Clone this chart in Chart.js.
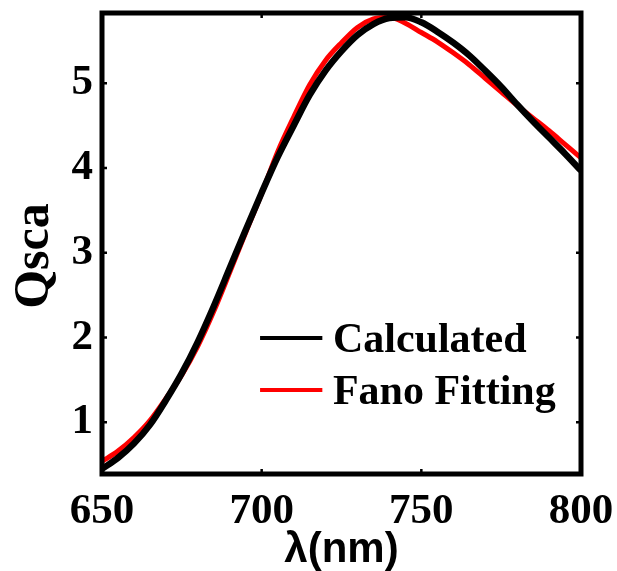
<!DOCTYPE html>
<html>
<head>
<meta charset="utf-8">
<script src="https://cdn.jsdelivr.net/npm/chart.js@4/dist/chart.umd.min.js"></script>
<style>
html,body{margin:0;padding:0;background:#fff;}
#wrap{width:617px;height:571px;}
</style>
</head>
<body>
<div id="wrap"><canvas id="c" width="617" height="571"></canvas></div>
<script>
const wavelengths = [650,655,660,665,670,675,680,685,690,695,700,705,710,715,720,725,730,735,740,745,750,755,760,765,770,775,780,785,790,795,800];
const calculated  = [0.45,0.58,0.75,0.97,1.26,1.58,1.95,2.37,2.82,3.27,3.71,4.13,4.50,4.86,5.15,5.38,5.57,5.70,5.77,5.78,5.72,5.61,5.48,5.33,5.15,4.96,4.75,4.55,4.36,4.17,3.97];
const fanoFitting = [0.54,0.66,0.82,1.02,1.28,1.56,1.90,2.31,2.77,3.24,3.70,4.19,4.60,4.98,5.27,5.48,5.66,5.76,5.78,5.71,5.60,5.49,5.36,5.22,5.06,4.90,4.74,4.59,4.44,4.28,4.12];
const xTicks = [650,700,750,800];
const yTicks = [1,2,3,4,5];
const seriesNames = ['Calculated','Fano Fitting'];
const seriesColors = ['#000000','#ff0000'];

const serif = '"Liberation Serif", "Times New Roman", serif';
const sans = '"Liberation Sans", Arial, sans-serif';

const framePlugin = {
  id: 'frame',
  afterDatasetsDraw(chart) {
    const {ctx, chartArea: a, scales} = chart;
    ctx.save();
    ctx.strokeStyle = '#000';
    ctx.lineWidth = 5;
    ctx.strokeRect(a.left, a.top, a.right - a.left, a.bottom - a.top);
    ctx.lineWidth = 2.5;
    const t = 5;
    xTicks.forEach(v => {
      const px = scales.x.getPixelForValue(v);
      ctx.beginPath();
      ctx.moveTo(px, a.top); ctx.lineTo(px, a.top + t);
      ctx.moveTo(px, a.bottom); ctx.lineTo(px, a.bottom - t);
      ctx.stroke();
    });
    yTicks.forEach(v => {
      const py = scales.y.getPixelForValue(v);
      ctx.beginPath();
      ctx.moveTo(a.left, py); ctx.lineTo(a.left + t, py);
      ctx.moveTo(a.right, py); ctx.lineTo(a.right - t, py);
      ctx.stroke();
    });
    ctx.restore();
  }
};

const legendPlugin = {
  id: 'innerLegend',
  afterDraw(chart) {
    const {ctx, chartArea: a} = chart;
    const w = a.right - a.left, h = a.bottom - a.top;
    const x0 = a.left + 0.33 * w, x1 = a.left + 0.46 * w, tx = a.left + 0.482 * w;
    const rows = [a.top + 0.705 * h, a.top + 0.818 * h];
    ctx.save();
    ctx.font = 'bold 42px ' + serif;
    ctx.textAlign = 'left';
    ctx.textBaseline = 'alphabetic';
    chart.data.datasets.forEach((ds, i) => {
      const y = rows[i];
      ctx.strokeStyle = ds.borderColor;
      ctx.lineWidth = 4;
      ctx.beginPath(); ctx.moveTo(x0, y); ctx.lineTo(x1, y); ctx.stroke();
      ctx.fillStyle = '#000';
      ctx.fillText(ds.label, tx, y + 14);
    });
    ctx.restore();
  }
};

new Chart(document.getElementById('c'), {
  type: 'line',
  data: {
    datasets: [
      {label: seriesNames[0], data: wavelengths.map((x,i)=>({x, y: calculated[i]})), borderColor: seriesColors[0], borderWidth: 6.5, pointRadius: 0, tension: 0.4, cubicInterpolationMode: 'monotone', fill: false},
      {label: seriesNames[1], data: wavelengths.map((x,i)=>({x, y: fanoFitting[i]})), borderColor: seriesColors[1], borderWidth: 5, pointRadius: 0, tension: 0.4, cubicInterpolationMode: 'monotone', fill: false}
    ]
  },
  options: {
    responsive: false,
    animation: false,
    layout: {padding: {left: 0, right: 36, top: 13, bottom: 0}},
    plugins: {legend: {display: false}, tooltip: {enabled: false}},
    scales: {
      x: {
        type: 'linear', min: 650, max: 800,
        afterBuildTicks(s){ s.ticks = xTicks.map(v=>({value:v})); },
        afterFit(s){ s.height = 97; s.paddingLeft = 0; s.paddingRight = 0; },
        grid: {display: false, drawTicks: false},
        border: {display: false},
        ticks: {color: '#000', padding: 12, maxRotation: 0, font: {family: serif, weight: 'bold', size: 43}},
        title: {display: true, text: 'λ(nm)', color: '#000', padding: {top: 0, bottom: 0}, font: {family: sans, weight: 'bold', size: 42, lineHeight: 1}}
      },
      y: {
        type: 'linear', min: 0.39, max: 5.83,
        afterBuildTicks(s){ s.ticks = yTicks.map(v=>({value:v})); },
        afterFit(s){ s.width = 102; s.paddingTop = 0; s.paddingBottom = 0; },
        grid: {display: false, drawTicks: false},
        border: {display: false},
        ticks: {color: '#000', padding: 9, font: {family: serif, weight: 'bold', size: 43}},
        title: {display: true, text: 'Qsca\u2002', color: '#000', padding: {top: 10, bottom: 0}, font: {family: serif, weight: 'bold', size: 50, lineHeight: 1}}
      }
    }
  },
  plugins: [framePlugin, legendPlugin]
});
</script>
</body>
</html>
